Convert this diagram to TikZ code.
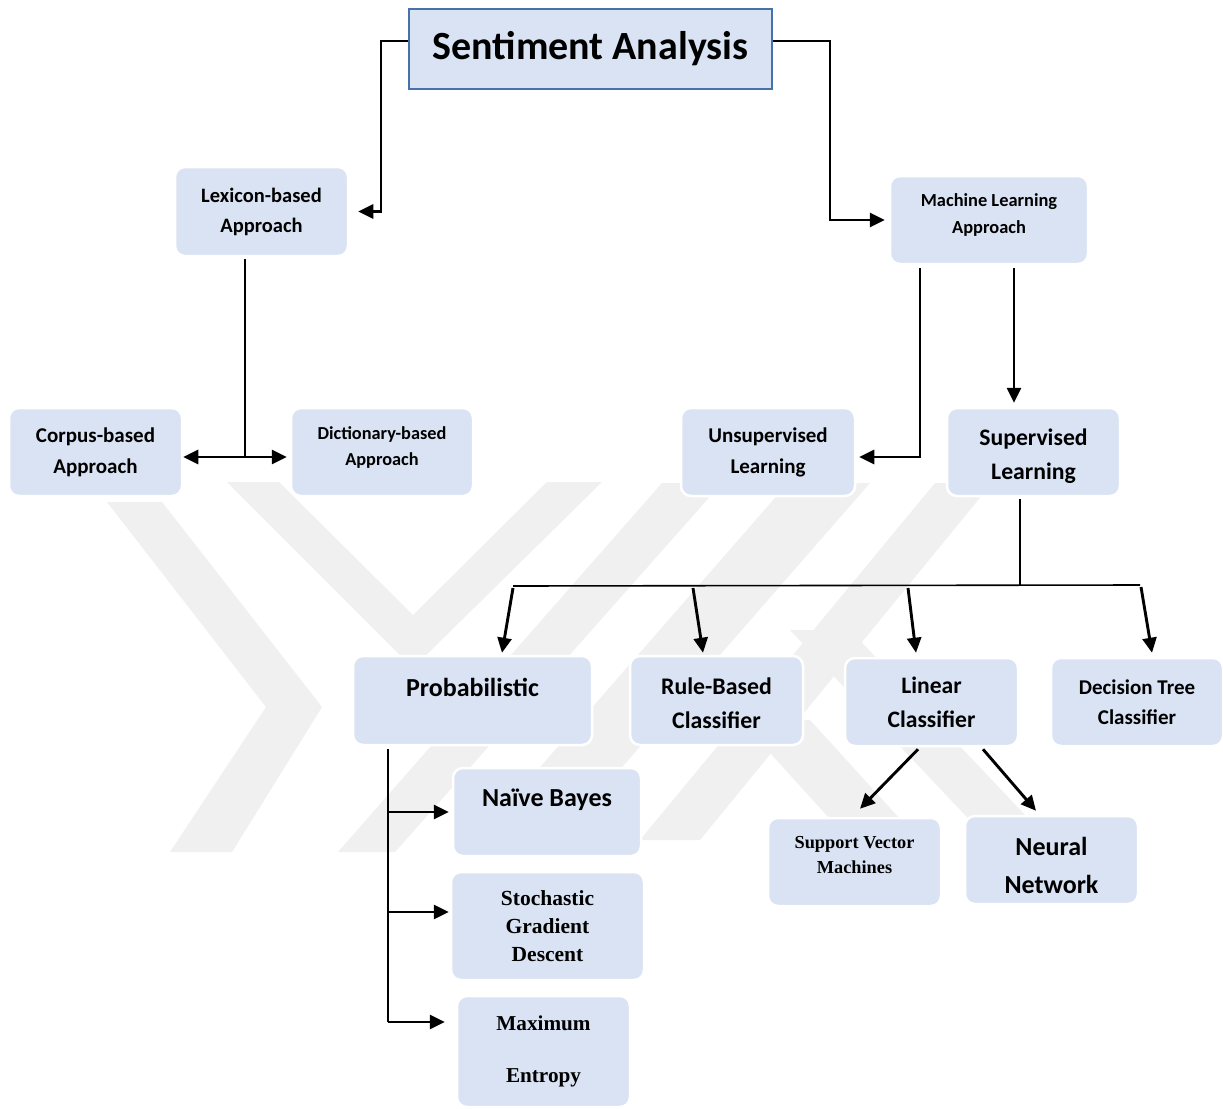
\documentclass[tikz,border=0pt]{standalone}
\usepackage{fontspec}
\setmainfont{Carlito}
\newfontfamily\serifbold{Liberation Serif}
\usetikzlibrary{arrows.meta}
\definecolor{boxblue}{RGB}{218,227,243}
\definecolor{titleedge}{RGB}{70,114,170}
\definecolor{markgray}{RGB}{240,240,240}

\begin{document}
\begin{tikzpicture}[x=1pt,y=-1pt,
  box/.style={rounded corners=10pt, fill=boxblue, draw=white, line width=2.5pt,
    inner sep=0pt},
  titlebox/.style={fill=boxblue, draw=titleedge, line width=2pt, inner sep=0pt},
  size/.style 2 args={minimum width=#1pt, minimum height=#2pt},
  sans/.style 2 args={inner sep=0pt, align=center, font=\bfseries\fontsize{#1}{#2}\selectfont},
  serif/.style 2 args={inner sep=0pt, align=center, font=\serifbold\bfseries\fontsize{#1}{#2}\selectfont},
  link/.style={line width=2.9pt},
  thinlink/.style={line width=1.6pt},
  tip/.tip={Triangle[length=15pt,width=14pt]},
  arr/.style={line width=2.9pt, -tip},
  arrboth/.style={line width=2.9pt, tip-tip}
]
\useasboundingbox (0,0) rectangle (1223,1108);
\fill[white] (0,0) rectangle (1223,1108);

% faint background emblem
\begin{scope}[markgray]
  \fill (107,502) -- (162,502) -- (322,707) -- (232,852) -- (170,852) -- (266,707) -- cycle;
  \fill (227,482) -- (279,482) -- (413,615) -- (547,482) -- (602,482) -- (413,668) -- cycle;
  \fill (662,483) -- (722,483) -- (395,852) -- (338,852) -- cycle;
  \fill (788,483) -- (870,483) -- (548,852) -- (466,852) -- cycle;
  \fill (935,483) -- (992,483) -- (700,840) -- (640,840) -- cycle;
  \fill (790,630) -- (850,630) -- (1060,852) -- (1000,852) -- cycle;
  \fill (740,720) -- (810,720) -- (930,852) -- (860,852) -- cycle;
\end{scope}

% boxes
\node[titlebox, size={363}{80}] (title) at (590.5,49) {};
\node[box, size={173}{89}] (lex) at (261.5,211.5) {};
\node[box, size={198}{88}] (ml) at (989,220) {};
\node[box, size={173}{88}] (corpus) at (95.5,452) {};
\node[box, size={182}{88}] (dict) at (382,452) {};
\node[box, size={174}{88}] (unsup) at (768,452) {};
\node[box, size={173}{88}] (sup) at (1033.5,452) {};
\node[box, size={239}{89}] (prob) at (472.5,700.5) {};
\node[box, size={173}{89}] (rule) at (716.5,700.5) {};
\node[box, size={173}{88}] (lin) at (931.5,702) {};
\node[box, size={172}{88}] (dt) at (1137,702) {};
\node[box, size={188}{88}] (nb) at (547,812) {};
\node[box, size={193}{108}] (sgd) at (547.5,926) {};
\node[box, size={173}{111}] (me) at (543.5,1051.5) {};
\node[box, size={173}{88}] (svm) at (854.5,862) {};
\node[box, size={173}{88}] (nn) at (1051.5,860) {};

% box texts
\node[sans={40}{48}] (title-t) at (title) {Sentiment Analysis};
\node[sans={20.5}{30}] (lex-t) at (lex) {Lexicon-based\\Approach};
\node[sans={18.4}{27}] (ml-t) at ([yshift=5pt]ml.center) {Machine Learning\\Approach};
\node[sans={21}{31}] (corpus-t) at (corpus) {Corpus-based\\Approach};
\node[sans={18.3}{26}] (dict-t) at ([yshift=5pt]dict.center) {Dictionary-based\\Approach};
\node[sans={21}{31}] (unsup-t) at (unsup) {Unsupervised\\Learning};
\node[sans={23.7}{34}] (sup-t) at ([yshift=-4pt]sup.center) {Supervised\\Learning};
\node[sans={26}{34}] (prob-t) at ([yshift=13pt]prob.center) {Probabilistic};
\node[sans={23.8}{34}] (rule-t) at ([yshift=-3pt]rule.center) {Rule-Based\\Classifier};
\node[sans={23.6}{34}] (lin-t) at (lin) {Linear\\Classifier};
\node[sans={21}{30}] (dt-t) at (dt) {Decision Tree\\Classifier};
\node[sans={26}{34}] (nb-t) at ([yshift=12pt]nb.center) {Naïve Bayes};
\node[serif={21.5}{28}] (sgd-t) at (sgd) {Stochastic\\Gradient\\Descent};
\node[serif={21.2}{52}] (me-t) at (me) {Maximum\\Entropy};
\node[serif={18.3}{25}] (svm-t) at ([yshift=7pt]svm.center) {Support Vector\\Machines};
\node[sans={26}{38}] (nn-t) at ([yshift=-5pt]nn.center) {Neural\\Network};

% top split
\draw[arr] ([yshift=8pt]title.west) -- ++(-27,0) |- ([xshift=9pt]lex.east);
\draw[arr] ([yshift=8pt]title.east) -- ++(57,0) |- ([xshift=-4pt]ml.west);

% lexicon branch
\coordinate (lexfoot) at (245,457);
\draw[link] ([xshift=-16.5pt,yshift=-2pt]lex.south) -- (lexfoot);
\draw[arrboth, shorten >=3pt] (corpus.east |- lexfoot) -- (dict.west |- lexfoot);

% machine learning branch
\coordinate (mlfoot) at (920,457);
\draw[arr, shorten >=3pt] ([xshift=-69pt,yshift=-3pt]ml.south) -- (mlfoot) -- (unsup.east |- mlfoot);
\draw[arr] ([xshift=25pt,yshift=-3pt]ml.south) -- ([xshift=-19.5pt,yshift=4pt]sup.north);

% supervised classifiers bus
\coordinate (busjoin) at (1020,585);
\coordinate (busL) at (513,586);
\coordinate (busR) at (1140,585);
\draw[thinlink] ([xshift=-13.5pt,yshift=-2pt]sup.south) -- (busjoin);
\draw[thinlink] (busL) -- (busR);
\coordinate (b1) at (513,588);
\coordinate (b2) at (693,588);
\coordinate (b3) at (908,588);
\coordinate (b4) at (1141,587);
\draw[arr] (b1) -- ([xshift=29.5pt,yshift=2pt]prob.north);
\draw[arr] (b2) -- ([xshift=-13.5pt,yshift=2pt]rule.north);
\draw[arr] (b3) -- ([xshift=-15.5pt,yshift=4pt]lin.north);
\draw[arr] (b4) -- ([xshift=15pt,yshift=4pt]dt.north);

% probabilistic methods
\coordinate (spineend) at (388,1022);
\coordinate (s1) at (388,812);
\coordinate (s2) at (388,912);
\draw[link] ([xshift=-84.5pt,yshift=-3pt]prob.south) -- (spineend);
\draw[arr, shorten >=3pt] (s1) -- (nb.west |- s1);
\draw[arr, shorten >=1pt] (s2) -- (sgd.west |- s2);
\draw[arr, shorten >=11pt] (spineend) -- (me.west |- spineend);

% linear classifiers
\draw[arr] ([xshift=-13.5pt,yshift=-2pt]lin.south) -- ([xshift=5.5pt,yshift=8pt]svm.north);
\draw[arr] ([xshift=51.5pt,yshift=-2pt]lin.south) -- ([xshift=-15.5pt,yshift=4pt]nn.north);
\end{tikzpicture}
\end{document}
